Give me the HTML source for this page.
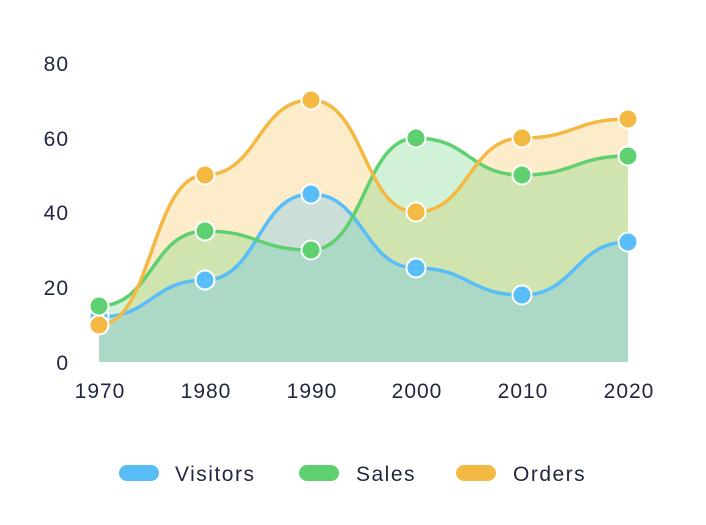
<!DOCTYPE html>
<html><head><meta charset="utf-8"><style>
body{margin:0;background:#fff;}
svg text{font-family:"Liberation Sans",sans-serif;fill:#1f2640;font-size:21px;letter-spacing:1px;}
svg text.lg{letter-spacing:1.5px;}
</style></head><body>
<svg width="706" height="520" xmlns="http://www.w3.org/2000/svg">
<g text-anchor="end">
<text x="69" y="370">0</text>
<text x="69" y="295">20</text>
<text x="69" y="220">40</text>
<text x="69" y="146">60</text>
<text x="69" y="71">80</text>
</g>
<g text-anchor="middle">
<text x="100" y="398">1970</text>
<text x="206" y="398">1980</text>
<text x="312" y="398">1990</text>
<text x="417" y="398">2000</text>
<text x="523" y="398">2010</text>
<text x="629" y="398">2020</text>
</g>
<path d="M99,325 C152,325 152,175 205,175 C258,175 258,100 311,100 C364,100 364,212 416,212 C469,212 469,138 522,138 C575,138 575,119 628,119 L628,362 L99,362Z" fill="#f4b942" fill-opacity="0.28"/>
<path d="M99,306 C152,306 152,231 205,231 C258,231 258,250 311,250 C364,250 364,138 416,138 C469,138 469,175 522,175 C575,175 575,156 628,156 L628,362 L99,362Z" fill="#5fd06f" fill-opacity="0.28"/>
<path d="M99,317 C152,317 152,280 205,280 C258,280 258,194 311,194 C364,194 364,268 416,268 C469,268 469,295 522,295 C575,295 575,242 628,242 L628,362 L99,362Z" fill="#59bdf7" fill-opacity="0.3"/>
<g fill="none" stroke-width="3.5">
<path d="M99,317 C152,317 152,280 205,280 C258,280 258,194 311,194 C364,194 364,268 416,268 C469,268 469,295 522,295 C575,295 575,242 628,242" stroke="#59bdf7"/>
<path d="M99,306 C152,306 152,231 205,231 C258,231 258,250 311,250 C364,250 364,138 416,138 C469,138 469,175 522,175 C575,175 575,156 628,156" stroke="#5fd06f"/>
<path d="M99,325 C152,325 152,175 205,175 C258,175 258,100 311,100 C364,100 364,212 416,212 C469,212 469,138 522,138 C575,138 575,119 628,119" stroke="#f4b942"/>
</g>
<g stroke="#fff" stroke-width="2">
<g fill="#59bdf7">
<circle cx="99" cy="317" r="9.5"/><circle cx="205" cy="280" r="9.5"/><circle cx="311" cy="194" r="9.5"/><circle cx="416" cy="268" r="9.5"/><circle cx="522" cy="295" r="9.5"/><circle cx="628" cy="242" r="9.5"/>
</g>
<g fill="#5fd06f">
<circle cx="99" cy="306" r="9.5"/><circle cx="205" cy="231" r="9.5"/><circle cx="311" cy="250" r="9.5"/><circle cx="416" cy="138" r="9.5"/><circle cx="522" cy="175" r="9.5"/><circle cx="628" cy="156" r="9.5"/>
</g>
<g fill="#f4b942">
<circle cx="99" cy="325" r="9.5"/><circle cx="205" cy="175" r="9.5"/><circle cx="311" cy="100" r="9.5"/><circle cx="416" cy="212" r="9.5"/><circle cx="522" cy="138" r="9.5"/><circle cx="628" cy="119" r="9.5"/>
</g>
</g>
<rect x="119" y="465" width="40" height="16" rx="8" fill="#59bdf7"/>
<text class="lg" x="175" y="481">Visitors</text>
<rect x="299" y="465" width="40" height="16" rx="8" fill="#5fd06f"/>
<text class="lg" x="356" y="481">Sales</text>
<rect x="456" y="465" width="40" height="16" rx="8" fill="#f4b942"/>
<text class="lg" x="513" y="481">Orders</text>
</svg>
</body></html>
